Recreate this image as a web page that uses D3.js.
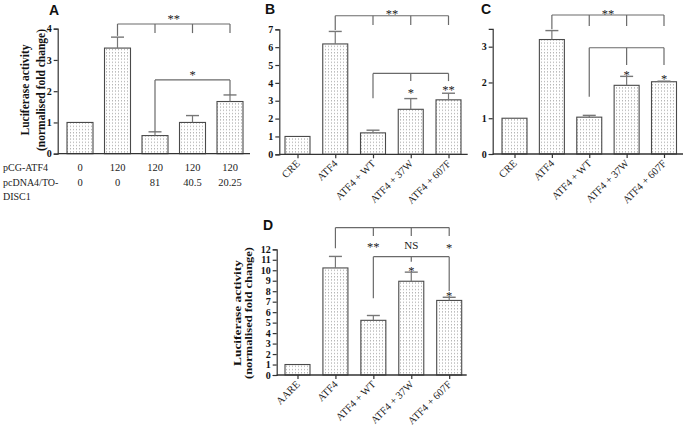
<!DOCTYPE html>
<html><head><meta charset="utf-8">
<script src="https://cdn.jsdelivr.net/npm/d3@7"></script>
<style>body{margin:0;background:#fff}svg{display:block}</style>
</head><body>
<svg id="c" width="685" height="429"></svg>
<script>
// ---------- data ----------
const atf4Row   = ["0", "120", "120", "120", "120"];
const disc1Row  = ["0", "0", "81", "40.5", "20.25"];
const catsA     = ["a1", "a2", "a3", "a4", "a5"];
const valuesA   = [1.0, 3.38, 0.58, 1.0, 1.67];
const errorsA   = [0, 0.35, 0.12, 0.22, 0.21];
const ticksA    = [0, 1, 2, 3, 4];

const catsBC    = ["CRE", "ATF4", "ATF4 + WT", "ATF4 + 37W", "ATF4 + 607F"];
const valuesB   = [1.0, 6.18, 1.2, 2.52, 3.05];
const errorsB   = [0, 0.70, 0.15, 0.60, 0.37];
const ticksB    = [0, 1, 2, 3, 4, 5, 6, 7];

const valuesC   = [1.0, 3.2, 1.03, 1.92, 2.02];
const errorsC   = [0, 0.25, 0.05, 0.25, 0.015];
const ticksC    = [0, 1, 2, 3];

const catsD     = ["AARE", "ATF4", "ATF4 + WT", "ATF4 + 37W", "ATF4 + 607F"];
const valuesD   = [1.0, 10.22, 5.22, 8.95, 7.12];
const errorsD   = [0, 1.10, 0.46, 0.87, 0.30];
const ticksD    = [0,1,2,3,4,5,6,7,8,9,10,11,12];

// significance brackets: level value, legs [category index, leg end value]
const bracketsA = [{level: 4.15, legs: [[1,3.77],[2,3.86],[3,3.86],[4,3.86]]},
                   {level: 2.36, legs: [[2,0.70],[4,1.88]]}];
const labelsA   = [{text:"**", at:[2,3], v:4.19}, {text:"*", at:[3], v:2.40}];
const bracketsB = [{level: 7.76, legs: [[1,6.96],[2,7.24],[3,7.24],[4,7.24]]},
                   {level: 4.53, legs: [[2,3.14],[3,4.10],[4,4.10]]}];
const labelsB   = [{text:"**", at:[2,3], v:7.62}, {text:"*", at:[3], v:3.22}, {text:"**", at:[4], v:3.36}];
const bracketsC = [{level: 3.886, legs: [[1,3.49],[2,3.58],[3,3.58],[4,3.58]]},
                   {level: 2.97, legs: [[2,1.60],[3,2.49],[4,2.49]]}];
const labelsC   = [{text:"**", at:[2,3], v:3.80}, {text:"*", at:[3], v:2.10}, {text:"*", at:[4], v:1.99}];
const bracketsD = [{level: 14.07, legs: [[1,12.10],[2,13.28],[3,13.28],[4,13.28]]},
                   {level: 11.30, legs: [[2,7.33],[3,10.82],[4,8.02]]}];
const labelsD   = [{text:"**", at:[2], v:11.80}, {text:"NS", at:[3], v:12.0}, {text:"*", at:[4], v:11.75},
                   {text:"*", at:[3], v:9.58}, {text:"*", at:[4], v:7.12}];

// ---------- drawing ----------
const svg = d3.select("#c");
const SERIF = "'Liberation Serif','Times New Roman',serif";
const SANS = "'Liberation Sans',Arial,sans-serif";

const defs = svg.append("defs");
const pat = defs.append("pattern").attr("id","dots").attr("patternUnits","userSpaceOnUse")
  .attr("width",3).attr("height",3.2);
pat.append("rect").attr("width",3).attr("height",3.2).attr("fill","#fff");
pat.append("rect").attr("x",1).attr("y",1).attr("width",1).attr("height",1).attr("fill","#9a9a9a");

function panel(o) {
  const g = svg.append("g");
  const x = d3.scalePoint().domain(o.cats).range([o.c0, o.c1]);
  const y = d3.scaleLinear().domain([0, o.ymax]).range([o.y0, o.yTop]);
  const bw = o.bw;

  g.selectAll("rect.bar").data(o.values).join("rect")
    .attr("x", (d,i) => x(o.cats[i]) - bw/2).attr("width", bw)
    .attr("y", d => y(d)).attr("height", d => y(0) - y(d))
    .attr("fill","url(#dots)").attr("stroke","#4a4a4a").attr("stroke-width",1.1);

  o.values.forEach((v,i) => {
    if (!o.errors[i]) return;
    const cx = x(o.cats[i]);
    g.append("line").attr("x1",cx).attr("x2",cx).attr("y1",y(v)).attr("y2",y(v+o.errors[i]))
      .attr("stroke","#777").attr("stroke-width",1.2);
    g.append("line").attr("x1",cx-6.5).attr("x2",cx+6.5).attr("y1",y(v+o.errors[i])).attr("y2",y(v+o.errors[i]))
      .attr("stroke","#777").attr("stroke-width",1.4);
  });

  const ya = g.append("g").attr("transform",`translate(${o.ax},0)`)
    .call(d3.axisLeft(y).tickValues(o.ticks).tickSize(4).tickPadding(2).tickFormat(d3.format("d")));
  ya.selectAll("path,line").attr("stroke","#333").attr("stroke-width",1.2);
  ya.selectAll("text").attr("font-family",SERIF).attr("font-weight","bold").attr("font-size",o.tickFs||10).attr("fill","#111");

  const xa = g.append("g").attr("transform",`translate(0,${o.y0})`)
    .call(d3.axisBottom(x).tickSize(o.xticks ? 4 : 0).tickFormat(""));
  xa.select(".domain").remove();
  xa.selectAll("line").attr("stroke","#333").attr("stroke-width",1.2);
  g.append("line").attr("x1",o.ax).attr("x2",o.axEnd).attr("y1",o.y0).attr("y2",o.y0)
    .attr("stroke","#333").attr("stroke-width",1.3);

  if (o.rotLabels) {
    g.selectAll("text.xl").data(o.cats).join("text")
      .attr("transform", d => `translate(${x(d)+3},${o.y0+10}) rotate(-45)`)
      .attr("text-anchor","end").attr("font-family",SERIF).attr("font-size",10.5).attr("fill","#222")
      .text(d => d);
  }

  o.brackets.forEach(b => {
    const xs = b.legs.map(l => x(o.cats[l[0]]));
    g.append("line").attr("x1",d3.min(xs)).attr("x2",d3.max(xs)).attr("y1",y(b.level)).attr("y2",y(b.level))
      .attr("stroke","#6a6a6a").attr("stroke-width",1.2);
    b.legs.forEach(l => {
      const cx = x(o.cats[l[0]]);
      g.append("line").attr("x1",cx).attr("x2",cx).attr("y1",y(b.level)).attr("y2",y(l[1]))
        .attr("stroke","#6a6a6a").attr("stroke-width",1.2);
    });
  });
  o.labels.forEach(l => {
    const cx = d3.mean(l.at, i => x(o.cats[i]));
    g.append("text").attr("x",cx).attr("y",y(l.v)).attr("text-anchor","middle")
      .attr("font-family",SERIF).attr("font-size", l.text === "NS" ? 11 : 12.5).attr("fill","#1a1a1a")
      .text(l.text);
  });

  g.append("text").attr("x",o.letter[1]).attr("y",o.letter[2]).attr("font-family",SANS)
    .attr("font-weight","bold").attr("font-size",14).attr("fill","#111").text(o.letter[0]);

  if (o.ytitle) {
    const t = g.append("text").attr("transform",`translate(${o.ytitle.x},${o.ytitle.y}) rotate(-90)`)
      .attr("text-anchor","middle").attr("font-family",SERIF).attr("font-weight","bold")
      .attr("font-size",o.ytitle.fs).attr("fill","#111");
    const t1 = t.append("tspan").attr("x",0).attr("dy",0).text("Luciferase activity");
    const t2 = t.append("tspan").attr("x",0).attr("dy",o.ytitle.gap).text("(normalised fold change)");
    if (o.ytitle.len) {
      t1.attr("textLength",o.ytitle.len[0]).attr("lengthAdjust","spacingAndGlyphs");
      t2.attr("textLength",o.ytitle.len[1]).attr("lengthAdjust","spacingAndGlyphs");
    }
  }
  return {g, x, y};
}

const A = panel({cats:catsA, values:valuesA, errors:errorsA, ticks:ticksA, ymax:4,
  ax:57.7, axEnd:250, y0:153.7, yTop:28.7, c0:80, c1:230, bw:26, xticks:false,
  brackets:bracketsA, labels:labelsA, letter:["A",49,15],
  ytitle:{x:29, y:90, fs:11.5, gap:16}});

const rowsA = [{label:["pCG-ATF4"], vals:atf4Row, y:171}, {label:["pcDNA4/TO-","DISC1"], vals:disc1Row, y:186}];
rowsA.forEach(r => {
  r.label.forEach((s,k) => svg.append("text").attr("x",3).attr("y",r.y + k*14)
    .attr("font-family",SERIF).attr("font-size",10).attr("fill","#222").text(s));
  r.vals.forEach((s,i) => svg.append("text").attr("x",A.x(catsA[i])).attr("y",r.y).attr("text-anchor","middle")
    .attr("font-family",SERIF).attr("font-size",10.5).attr("fill","#222").text(s));
});

panel({cats:catsBC, values:valuesB, errors:errorsB, ticks:ticksB, ymax:7,
  ax:279.3, axEnd:467.7, y0:154.3, yTop:29.3, c0:297.5, c1:448.5, bw:25, xticks:true, rotLabels:true,
  brackets:bracketsB, labels:labelsB, letter:["B",265,14]});

panel({cats:catsBC, values:valuesC, errors:errorsC, ticks:ticksC, ymax:3.5,
  ax:492.7, axEnd:683, y0:154, yTop:28.8, c0:514.5, c1:664, bw:25, xticks:true, rotLabels:true,
  brackets:bracketsC, labels:labelsC, letter:["C",481,14]});

panel({cats:catsD, values:valuesD, errors:errorsD, ticks:ticksD, ymax:12, tickFs:10,
  ax:276.7, axEnd:466.7, y0:375, yTop:249.3, c0:297.5, c1:449.2, bw:25, xticks:true, rotLabels:true,
  brackets:bracketsD, labels:labelsD, letter:["D",263,230],
  ytitle:{x:241, y:313, fs:10.5, gap:10.5, len:[106,132]}});
</script>
</body></html>
